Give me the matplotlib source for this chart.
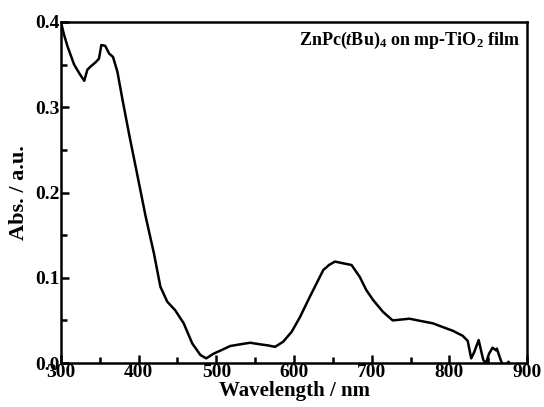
"""
Absorption spectrum of ZnPc(tBu)4 adsorbed on a mesoporous TiO2 film.
"""

import matplotlib

matplotlib.use("Agg")
import matplotlib.pyplot as plt
from matplotlib.ticker import MultipleLocator

# spectrum
wavelength = [
    300, 304, 308.6, 313, 317, 323.5, 330, 334, 338.5, 345, 349, 352, 357, 362,
    367, 372.6, 379, 387.6, 398, 409, 419.6, 428, 436.8, 447, 458, 469, 479.5,
    487, 496.5, 505, 518, 531, 543.6, 556, 567, 575.6, 586, 597, 607.7, 620.5,
    637.6, 645, 652.6, 663, 674, 684.6, 693, 701.7, 714.5, 727, 748.7, 761.5,
    778.6, 795.8, 804, 817, 823.5, 828, 832, 837.6, 840.6, 843.6, 847, 851,
    855.5, 859.8, 861, 866, 869, 873, 876, 879,
]
absorbance = [
    0.400, 0.385, 0.371, 0.360, 0.350, 0.340, 0.331, 0.344, 0.348, 0.353, 0.357,
    0.373, 0.372, 0.363, 0.359, 0.342, 0.310, 0.269, 0.222, 0.172, 0.129,
    0.0895, 0.072, 0.062, 0.0466, 0.023, 0.0094, 0.0055, 0.011, 0.0145, 0.020,
    0.022, 0.0238, 0.022, 0.0206, 0.019, 0.025, 0.0367, 0.054, 0.078, 0.109,
    0.115, 0.119, 0.117, 0.115, 0.101, 0.0856, 0.074, 0.060, 0.050, 0.052,
    0.0496, 0.0466, 0.0407, 0.038, 0.032, 0.026, 0.0055, 0.013, 0.027, 0.015,
    0.0035, 0.0, 0.011, 0.018, 0.015, 0.017, 0.0035, -0.003, -0.002, 0.0015,
    -0.003,
]

plt.rcParams["font.family"] = "Liberation Serif"
plt.rcParams["font.weight"] = "bold"
plt.rcParams["mathtext.fontset"] = "custom"
plt.rcParams["mathtext.rm"] = "Liberation Serif:bold"
plt.rcParams["mathtext.it"] = "Liberation Serif:italic:bold"
plt.rcParams["mathtext.bf"] = "Liberation Serif:bold"

fig = plt.figure(figsize=(5.44, 4.07), dpi=100)
ax = fig.add_axes([0.112, 0.108, 0.857, 0.838])

ax.plot(wavelength, absorbance, color="black", lw=1.8)

ax.set_xlim(300, 900)
ax.set_ylim(0, 0.4)
ax.xaxis.set_major_locator(MultipleLocator(100))
ax.xaxis.set_minor_locator(MultipleLocator(50))
ax.yaxis.set_major_locator(MultipleLocator(0.1))
ax.yaxis.set_minor_locator(MultipleLocator(0.05))
ax.tick_params(which="both", direction="in", top=False, right=False,
               width=1.8, labelsize=14)
ax.tick_params(which="major", length=6, pad=1)
ax.tick_params(which="minor", length=4)
for side in ax.spines.values():
    side.set_linewidth(1.8)

ax.set_xlabel("Wavelength / nm", fontsize=15, fontweight="bold", labelpad=0)
ax.set_ylabel("Abs. / a.u.", fontsize=16, fontweight="bold", labelpad=4)

ax.text(0.985, 0.945,
        r"ZnPc($\mathit{t}$Bu)$_\mathbf{4}$ on mp-TiO$_\mathbf{2}$ film",
        transform=ax.transAxes, ha="right", va="center", fontsize=13,
        fontweight="bold")

fig.savefig("out.png", dpi=100)
